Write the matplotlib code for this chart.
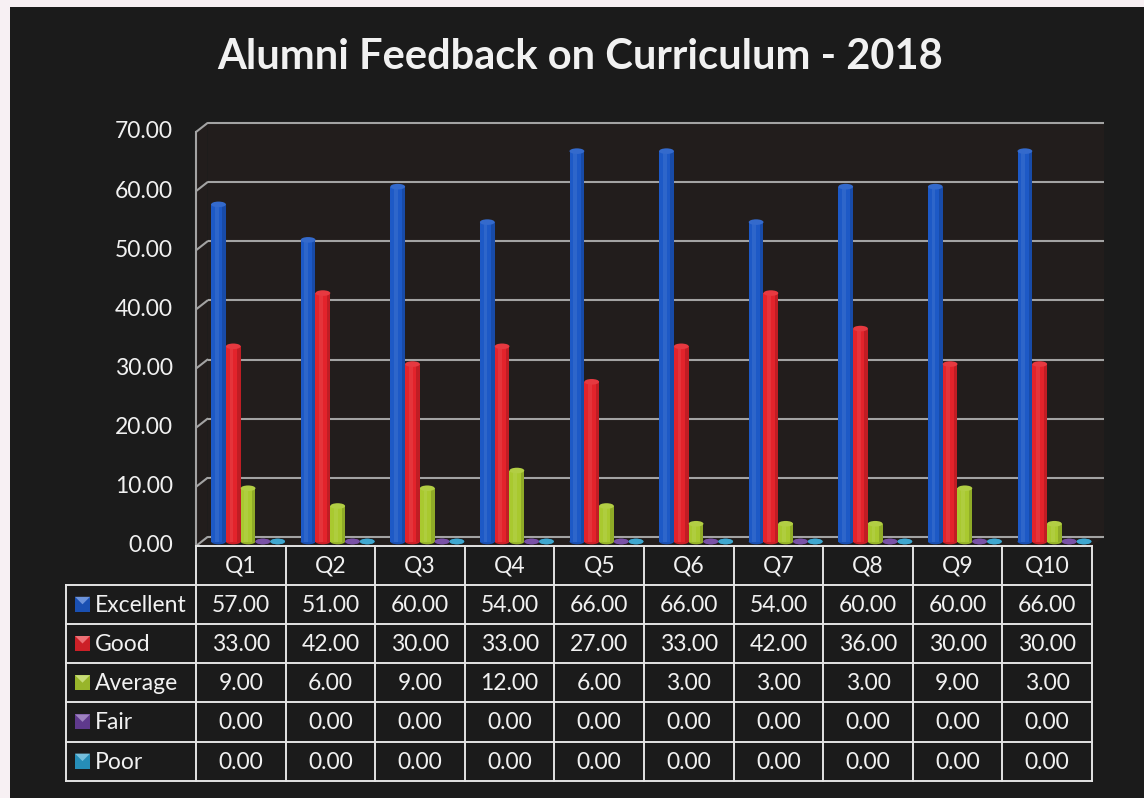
import matplotlib
matplotlib.use('Agg')
import matplotlib.pyplot as plt
from matplotlib.transforms import Affine2D, ScaledTranslation
from matplotlib.patches import Rectangle, Ellipse, Polygon, ConnectionPatch
import matplotlib.colors as mcolors

# ---------------- data ----------------
title = 'Alumni Feedback on Curriculum - 2018'
categories = ['Q1', 'Q2', 'Q3', 'Q4', 'Q5', 'Q6', 'Q7', 'Q8', 'Q9', 'Q10']
series_names = ['Excellent', 'Good', 'Average', 'Fair', 'Poor']
excellent = [57, 51, 60, 54, 66, 66, 54, 60, 60, 66]
good = [33, 42, 30, 33, 27, 33, 42, 36, 30, 30]
average = [9, 6, 9, 12, 6, 3, 3, 3, 9, 3]
fair = [0, 0, 0, 0, 0, 0, 0, 0, 0, 0]
poor = [0, 0, 0, 0, 0, 0, 0, 0, 0, 0]
y_ticks = [0, 10, 20, 30, 40, 50, 60, 70]

series_values = [excellent, good, average, fair, poor]
series_colors = ['#1d59c6', '#e3232b', '#a9c92f', '#6a3f9c', '#2a9dcb']

# ---------------- layout (pixels) ----------------
W, H = 1144, 798
FRONT_L, FRONT_R = 196.0, 1092.0
FRONT_Y0, FRONT_YTOP = 546.0, 132.0
DX, DY = 11.5, 9.0
TXT = '#f1f1f1'
LINE = '#e4e4e4'
GRID = '#a3a3a3'
FONT = 'Lato'
FS = 16.5

fig = plt.figure(figsize=(W / 100, H / 100), dpi=100, facecolor='#f7f0f3')
PX = Affine2D().scale(1 / W, -1 / H).translate(0, 1) + fig.transFigure

# dark chart area
fig.patches.append(Rectangle((10, 7), W - 10, H - 7, transform=PX,
                             facecolor='#1b1b1b', edgecolor='none', zorder=-20))
# plot area walls
wall = '#221d1c'
bl, br = FRONT_L + DX, FRONT_R + DX
bt, bb = FRONT_YTOP - DY, FRONT_Y0 - DY
for pts in ([(bl, bt), (br, bt), (br, bb), (bl, bb)],
            [(FRONT_L, FRONT_Y0), (FRONT_L, FRONT_YTOP), (bl, bt), (bl, bb)],
            [(FRONT_L, FRONT_Y0), (FRONT_R, FRONT_Y0), (br, bb), (bl, bb)]):
    fig.patches.append(Polygon(pts, closed=True, transform=PX,
                               facecolor=wall, edgecolor='none', zorder=-19))

# axes at mid depth
ml = FRONT_L + DX / 2
my0 = FRONT_Y0 - DY / 2
mytop = FRONT_YTOP - DY / 2
ax = fig.add_axes([ml / W, (H - my0) / H, (FRONT_R - FRONT_L) / W, (my0 - mytop) / H])
ax.set_xlim(-0.5, len(categories) - 0.5)
ax.set_ylim(0, 70)
ax.axis('off')
ax.patch.set_alpha(0)

front = ax.transData + ScaledTranslation(-DX / 2 / 100, -DY / 2 / 100, fig.dpi_scale_trans)
back = ax.transData + ScaledTranslation(DX / 2 / 100, DY / 2 / 100, fig.dpi_scale_trans)
xl = -0.5
xr = len(categories) - 0.5

# gridlines on back wall + side wall diagonals
for v in y_ticks:
    ax.plot([xl, xr], [v, v], transform=back, color=GRID, lw=1.5,
            zorder=1, clip_on=False, solid_capstyle='butt')
    cp = ConnectionPatch((xl, v), (xl, v), coordsA=front, coordsB=back,
                         color=GRID, lw=1.5, zorder=1, clip_on=False)
    ax.add_artist(cp)
    ax.text(xl, v, f'{v:.2f}', transform=front + ScaledTranslation(-0.23, 0, fig.dpi_scale_trans),
            ha='right', va='center', color=TXT, fontsize=FS, family=FONT)
ax.plot([xl, xl], [0, 70], transform=front, color=GRID, lw=1.5, zorder=1, clip_on=False)

# cylinder bars
bw = 0.165
first_off = -0.313
cap_h = 0.95


def lighten(c, f):
    r, g, b = mcolors.to_rgb(c)
    return (r + (1 - r) * f, g + (1 - g) * f, b + (1 - b) * f)


def darken(c, f):
    r, g, b = mcolors.to_rgb(c)
    return (r * (1 - f), g * (1 - f), b * (1 - f))


for j, (vals, col) in enumerate(zip(series_values, series_colors)):
    xs = [i + first_off + j * bw for i in range(len(categories))]
    ax.bar(xs, vals, width=bw, color=col, zorder=3, linewidth=0)
    ax.bar([x + bw * 0.38 for x in xs], vals, width=bw * 0.24,
           color=darken(col, 0.25), zorder=3.1, linewidth=0, alpha=0.6)
    ax.bar([x - bw * 0.12 for x in xs], vals, width=bw * 0.25,
           color=lighten(col, 0.2), zorder=3.1, linewidth=0, alpha=0.4)
    for x, v in zip(xs, vals):
        ax.add_patch(Ellipse((x, 0), bw, cap_h, facecolor=darken(col, 0.1),
                             edgecolor='none', zorder=2.9, clip_on=False))
        ax.add_patch(Ellipse((x, v), bw, cap_h, facecolor=lighten(col, 0.1),
                             edgecolor='none', zorder=3.2, clip_on=False))

# title
fig.text(580 / W, 1 - 57 / H, title, ha='center', va='center', color=TXT,
         fontsize=30, fontweight='bold', family=FONT)

# data table
n = len(categories)
COL_W = (FRONT_R - FRONT_L) / n
LEG_L = 66.0
HEAD_T = 545.5
ROW_H = 39.2
rows_y = [HEAD_T + ROW_H * (k + 1) for k in range(len(series_names) + 1)]
tbl_b = rows_y[-1]


def pxline(xs, ys):
    fig.lines.append(plt.Line2D(xs, ys, transform=PX, color=LINE, lw=1.4, zorder=5))


pxline([FRONT_L, FRONT_R], [HEAD_T, HEAD_T])
for k in range(n + 1):
    x = FRONT_L + COL_W * k
    pxline([x, x], [HEAD_T, tbl_b])
pxline([LEG_L, LEG_L], [rows_y[0], tbl_b])
for y in rows_y:
    pxline([LEG_L, FRONT_R], [y, y])

for k, c in enumerate(categories):
    fig.text((FRONT_L + COL_W * (k + 0.5)) / W, 1 - (HEAD_T + ROW_H / 2 + 1) / H, c,
             ha='center', va='center', color=TXT, fontsize=FS, family=FONT)

for r, (name, vals, col) in enumerate(zip(series_names, series_values, series_colors)):
    yc = rows_y[r] + ROW_H / 2
    # legend key
    kx0, ks = 75.0, 15.0
    fig.patches.append(Rectangle((kx0, yc - ks / 2), ks, ks, transform=PX,
                                 facecolor=darken(col, 0.1), edgecolor='none', zorder=6))
    fig.patches.append(Polygon([(kx0, yc - ks / 2), (kx0 + ks, yc - ks / 2), (kx0 + ks / 2, yc)],
                               closed=True, transform=PX, facecolor=lighten(col, 0.35),
                               edgecolor='none', zorder=6.1))
    fig.text(95 / W, 1 - (yc + 1) / H, name, ha='left', va='center', color=TXT,
             fontsize=FS, family=FONT)
    for k, v in enumerate(vals):
        fig.text((FRONT_L + COL_W * (k + 0.5)) / W, 1 - (yc + 1) / H, f'{v:.2f}',
                 ha='center', va='center', color=TXT, fontsize=FS, family=FONT)

fig.savefig('out.png', dpi=100, facecolor=fig.get_facecolor())
